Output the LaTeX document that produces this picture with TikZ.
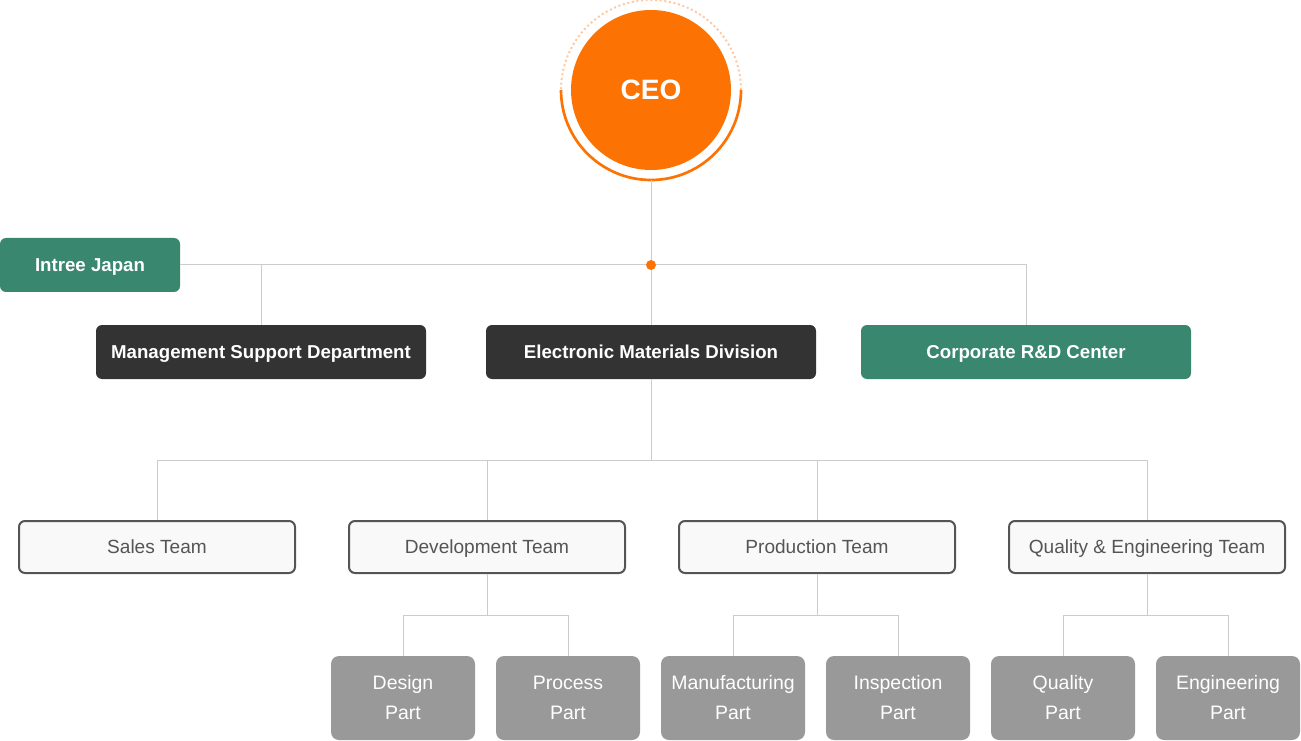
\documentclass[tikz,border=0pt]{standalone}
\usepackage{fontspec}
\setmainfont{Liberation Sans}
\usepackage{tikz}
\usetikzlibrary{positioning,calc}
\definecolor{ceoorange}{RGB}{252,115,4}
\definecolor{ringorange}{RGB}{255,200,160}
\definecolor{orggreen}{RGB}{58,135,111}
\definecolor{orgdark}{RGB}{51,51,51}
\definecolor{teamgray}{RGB}{85,85,85}
\definecolor{teamfill}{RGB}{249,249,249}
\definecolor{partgray}{RGB}{153,153,153}
\definecolor{linegray}{RGB}{204,204,204}
\tikzstyle{ceo} = [circle, minimum size=120pt, inner sep=0pt, outer sep=0pt, fill=ceoorange, text=white, font=\fontsize{21pt}{24pt}\selectfont\bfseries]
\tikzstyle{division} = [rectangle, rounded corners=4.5pt, minimum width=247.5pt, minimum height=40.5pt, outer sep=0pt, text centered, text height=10pt, text depth=0pt, fill=orgdark, text=white, font=\fontsize{14pt}{16pt}\selectfont\bfseries]
\tikzstyle{team} = [rectangle, rounded corners=4.5pt, minimum width=207pt, minimum height=39pt, outer sep=0.75pt, text centered, text height=10pt, text depth=0pt, draw=teamgray, line width=1.5pt, fill=teamfill, text=teamgray, font=\fontsize{14.3pt}{16pt}\selectfont]
\tikzstyle{part} = [rectangle, rounded corners=6pt, minimum width=108pt, minimum height=63pt, outer sep=0pt, align=center, fill=partgray, text=white, font=\fontsize{14.6pt}{22.5pt}\selectfont]
\tikzstyle{link} = [line width=0.75pt, color=linegray]

\begin{document}
\begin{tikzpicture}[x=0.75pt,y=-0.75pt]
\useasboundingbox (0,0) rectangle (1301,741);

% ceo with ring
\node[circle, minimum size=135pt, inner sep=0pt, outer sep=0pt] (ring) at (651,90) {};
\draw[ringorange, line width=1.5pt, dotted] (ring.east) arc[start angle=0, end angle=180, radius=67.5pt];
\draw[ceoorange, line width=2pt] (ring.west) arc[start angle=180, end angle=360, radius=67.5pt];
\node[ceo] (ceo) at (651,90) {CEO};

% first level
\node[division, fill=orggreen, minimum width=135pt] (japan) at (90,265) {Intree Japan};
\node[division] (mgmt) at (261,352) {Management Support Department};
\node[division] (emd) at (651,352) {Electronic Materials Division};
\node[division, fill=orggreen] (rnd) at (1026,352) {Corporate R\&D Center};

% teams
\node[team] (sales) at (157,547) {Sales Team};
\node[team] (dev) at (487,547) {Development Team};
\node[team] (prod) at (817,547) {Production Team};
\node[team] (qe) at (1147,547) {Quality \& Engineering Team};

% parts
\node[part] (design) at (403,698) {Design\\Part};
\node[part] (process) at (568,698) {Process\\Part};
\node[part] (manuf) at (733,698) {Manufacturing\\Part};
\node[part] (inspect) at (898,698) {Inspection\\Part};
\node[part] (quality) at (1063,698) {Quality\\Part};
\node[part] (engin) at (1228,698) {Engineering\\Part};

% links
\coordinate (hub) at (651,265);
\coordinate (split) at (651,460);
\draw[link] (ring.south) -- (emd.north);
\draw[link] (japan.east) -| (rnd.north);
\draw[link] (mgmt.north) -- (mgmt.north |- hub);
\draw[link] (emd.south) -- (split);
\foreach \t in {sales,dev,prod,qe}
  \draw[link] (split) -| (\t.north);
\foreach \t/\a/\b in {dev/design/process,prod/manuf/inspect,qe/quality/engin}{
  \coordinate (\t split) at ($(\t.south)+(0,41)$);
  \draw[link] (\t.south) -- (\t split);
  \draw[link] (\t split) -| (\a.north);
  \draw[link] (\t split) -| (\b.north);
}
\fill[ceoorange] (hub) circle (3.75pt);
\end{tikzpicture}
\end{document}
